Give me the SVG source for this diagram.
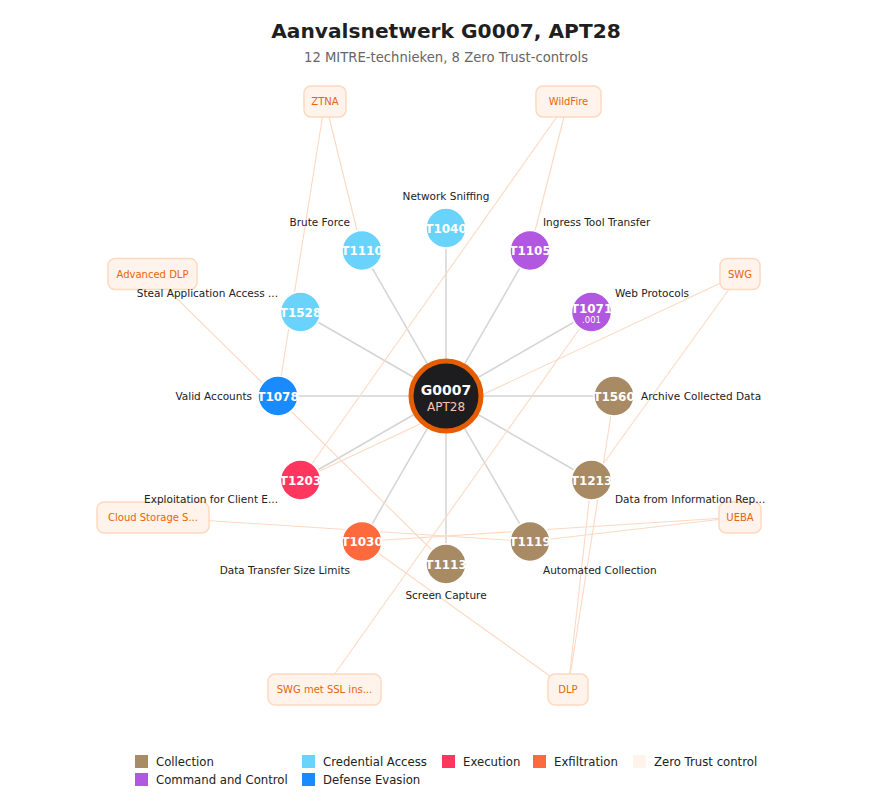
<svg xmlns="http://www.w3.org/2000/svg" width="894" height="802" viewBox="0 0 894 802">
<style>
text{font-family:"DejaVu Sans","Noto Sans",sans-serif}
.title{font-size:20.2px;font-weight:bold;fill:#1f1f1f}
.sub{font-size:13.2px;fill:#666}
.e{stroke:#d4d4d4;stroke-width:1.5;fill:none}
.z{stroke:#fdd9c2;stroke-width:1.1;fill:none}
.t circle{stroke:#fff;stroke-width:1.5}
.tid{font-size:12px;font-weight:bold;fill:#fff;text-anchor:middle}
.sid{font-size:8.5px;fill:#fff;text-anchor:middle}
.lbl{font-size:10.5px;fill:#222}
.ctl rect{fill:#fff3eb;stroke:#fdd9c0;stroke-width:1.5}
.ctl text{font-size:10px;fill:#e8650c;text-anchor:middle}
.leg{font-size:11.7px;fill:#222}
.col{fill:#a88a65}.cred{fill:#6ad3fc}.c2{fill:#b257e0}.def{fill:#1a8bff}.exe{fill:#ff375f}.exf{fill:#ff6a3c}
</style>
<rect width="894" height="802" fill="#fff"/>
<text class="title" x="446" y="38" text-anchor="middle">Aanvalsnetwerk G0007, APT28</text>
<text class="sub" x="446" y="62" text-anchor="middle">12 MITRE-technieken, 8 Zero Trust-controls</text>
<g id="connectors">
<line class="e" x1="446" y1="396" x2="446" y2="228"/>
<line class="e" x1="446" y1="396" x2="530" y2="250.5"/>
<line class="e" x1="446" y1="396" x2="591.5" y2="312"/>
<line class="e" x1="446" y1="396" x2="614" y2="396"/>
<line class="e" x1="446" y1="396" x2="591.5" y2="480"/>
<line class="e" x1="446" y1="396" x2="530" y2="541.5"/>
<line class="e" x1="446" y1="396" x2="446" y2="564"/>
<line class="e" x1="446" y1="396" x2="362" y2="541.5"/>
<line class="e" x1="446" y1="396" x2="300.5" y2="480"/>
<line class="e" x1="446" y1="396" x2="278" y2="396"/>
<line class="e" x1="446" y1="396" x2="300.5" y2="312"/>
<line class="e" x1="446" y1="396" x2="362" y2="250.5"/>
<line class="z" x1="325" y1="101" x2="362" y2="250.5"/>
<line class="z" x1="325" y1="101" x2="278" y2="396"/>
<line class="z" x1="568" y1="101" x2="530" y2="250.5"/>
<line class="z" x1="568" y1="101" x2="300.5" y2="480"/>
<line class="z" x1="152" y1="274" x2="446" y2="564"/>
<line class="z" x1="740" y1="274" x2="300.5" y2="480"/>
<line class="z" x1="740" y1="274" x2="591.5" y2="480"/>
<line class="z" x1="153" y1="517" x2="530" y2="541.5"/>
<line class="z" x1="740" y1="517" x2="530" y2="541.5"/>
<line class="z" x1="740" y1="517" x2="362" y2="541.5"/>
<line class="z" x1="324" y1="689" x2="591.5" y2="312"/>
<line class="z" x1="568" y1="689" x2="591.5" y2="480"/>
<line class="z" x1="568" y1="689" x2="614" y2="396"/>
<line class="z" x1="568" y1="689" x2="362" y2="541.5"/>
</g>
<g id="ctl-ztna" class="ctl"><rect x="304" y="86" width="42" height="31" rx="7"/><text x="325" y="105">ZTNA</text></g>
<g id="ctl-wildfire" class="ctl"><rect x="536" y="86" width="65" height="31" rx="7"/><text x="568.5" y="105">WildFire</text></g>
<g id="ctl-advdlp" class="ctl"><rect x="108" y="258.5" width="89" height="31" rx="7"/><text x="152.5" y="278">Advanced DLP</text></g>
<g id="ctl-swg" class="ctl"><rect x="720" y="258.5" width="40" height="31" rx="7"/><text x="740" y="278">SWG</text></g>
<g id="ctl-cloud" class="ctl"><rect x="97" y="502" width="112" height="31" rx="7"/><text x="153" y="521">Cloud Storage S...</text></g>
<g id="ctl-ueba" class="ctl"><rect x="719" y="502" width="42" height="31" rx="7"/><text x="740" y="521">UEBA</text></g>
<g id="ctl-swgssl" class="ctl"><rect x="268" y="674" width="113" height="31" rx="7"/><text x="324.5" y="693">SWG met SSL ins...</text></g>
<g id="ctl-dlp" class="ctl"><rect x="548" y="674" width="40" height="31" rx="7"/><text x="568" y="693">DLP</text></g>
<g id="T1040" class="t"><circle class="cred" cx="446" cy="228" r="20"/><text class="tid" x="446" y="232.5">T1040</text><text class="lbl" x="446" y="200" text-anchor="middle">Network Sniffing</text></g>
<g id="T1105" class="t"><circle class="c2" cx="530" cy="250.5" r="20"/><text class="tid" x="530" y="255">T1105</text><text class="lbl" x="543" y="226">Ingress Tool Transfer</text></g>
<g id="T1071" class="t"><circle class="c2" cx="591.5" cy="312" r="20"/><text class="tid" x="591.5" y="312.5">T1071</text><text class="sid" x="591.5" y="323">.001</text><text class="lbl" x="615" y="297">Web Protocols</text></g>
<g id="T1560" class="t"><circle class="col" cx="614" cy="396" r="20"/><text class="tid" x="614" y="400.5">T1560</text><text class="lbl" x="641" y="400">Archive Collected Data</text></g>
<g id="T1213" class="t"><circle class="col" cx="591.5" cy="480" r="20"/><text class="tid" x="591.5" y="484.5">T1213</text><text class="lbl" x="615" y="503">Data from Information Rep...</text></g>
<g id="T1119" class="t"><circle class="col" cx="530" cy="541.5" r="20"/><text class="tid" x="530" y="546">T1119</text><text class="lbl" x="543" y="574">Automated Collection</text></g>
<g id="T1113" class="t"><circle class="col" cx="446" cy="564" r="20"/><text class="tid" x="446" y="568.5">T1113</text><text class="lbl" x="446" y="599" text-anchor="middle">Screen Capture</text></g>
<g id="T1030" class="t"><circle class="exf" cx="362" cy="541.5" r="20"/><text class="tid" x="362" y="546">T1030</text><text class="lbl" x="350" y="574" text-anchor="end">Data Transfer Size Limits</text></g>
<g id="T1203" class="t"><circle class="exe" cx="300.5" cy="480" r="20"/><text class="tid" x="300.5" y="484.5">T1203</text><text class="lbl" x="278" y="503" text-anchor="end">Exploitation for Client E...</text></g>
<g id="T1078" class="t"><circle class="def" cx="278" cy="396" r="20"/><text class="tid" x="278" y="400.5">T1078</text><text class="lbl" x="252" y="400" text-anchor="end">Valid Accounts</text></g>
<g id="T1528" class="t"><circle class="cred" cx="300.5" cy="312" r="20"/><text class="tid" x="300.5" y="316.5">T1528</text><text class="lbl" x="278" y="297" text-anchor="end">Steal Application Access ...</text></g>
<g id="T1110" class="t"><circle class="cred" cx="362" cy="250.5" r="20"/><text class="tid" x="362" y="255">T1110</text><text class="lbl" x="350" y="226" text-anchor="end">Brute Force</text></g>
<g id="G0007"><circle cx="446" cy="396" r="35" fill="#1d1d1f" stroke="#e65c00" stroke-width="5"/><text x="446" y="395" text-anchor="middle" font-size="14" font-weight="bold" fill="#fff">G0007</text><text x="446" y="411" text-anchor="middle" font-size="12" fill="#f5c6ad">APT28</text></g>
<g id="legend">
<rect class="col" x="135" y="755" width="13" height="13"/><text class="leg" x="156" y="766">Collection</text>
<rect class="c2" x="135" y="773" width="13" height="13"/><text class="leg" x="156" y="784">Command and Control</text>
<rect class="cred" x="302" y="755" width="13" height="13"/><text class="leg" x="323" y="766">Credential Access</text>
<rect class="def" x="302" y="773" width="13" height="13"/><text class="leg" x="323" y="784">Defense Evasion</text>
<rect class="exe" x="442" y="755" width="13" height="13"/><text class="leg" x="463" y="766">Execution</text>
<rect class="exf" x="533" y="755" width="13" height="13"/><text class="leg" x="554" y="766">Exfiltration</text>
<rect x="633" y="755" width="13" height="13" fill="#fff3eb"/><text class="leg" x="654" y="766">Zero Trust control</text>
</g>
</svg>
